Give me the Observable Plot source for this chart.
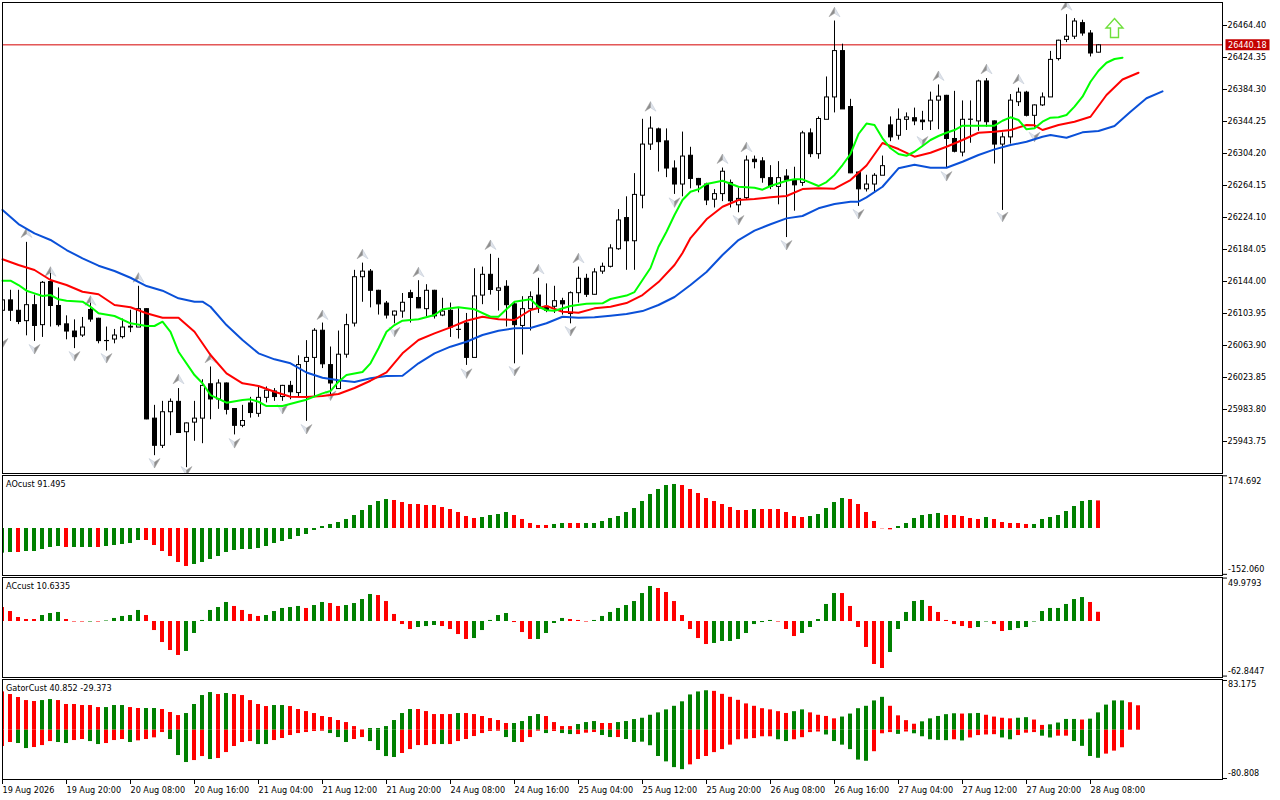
<!DOCTYPE html>
<html><head><meta charset="utf-8">
<script src="https://cdn.jsdelivr.net/npm/d3@7"></script>
<script src="https://cdn.jsdelivr.net/npm/@observablehq/plot@0.6"></script>
<style>
html,body{margin:0;padding:0;background:#fff;width:1280px;height:800px;overflow:hidden}
#chart{position:relative;width:1280px;height:800px}
#chart svg{position:absolute;left:0;display:block}
</style></head><body><div id="chart"></div>
<script>
// ---------- candles ----------
const opens=[26108,26121,26108,26095,26115,26090,26144,26114,26091,26082,
26077,26109,26098,26070.2,26072,26075,26088,26087,26110,25973,
25939,25981,25994,25956,25968,25973,26016,25997,26017,25985,
25964,25992,25979,25999,26007,26000,26014,26005,26044,26049,
26083,26040,26010,26053,26092,26150,26157,26133,26117,26102,
26107,26130,26124,26110,26133,26102,26108,26084.2,26092,26049,
26127,26153,26133,26138,26116,26089,26110,26127,26113,26113,
26120,26104,26130,26148,26128,26157,26163,26185,26224,26195,
26252,26316,26335,26320,26286,26266,26302,26273,26266,26247,
26254,26268,26240,26249,26297,26295,26274,26263,26276,26271,
26268,26330,26304,26347,26375,26433,26363,26281,26260,26266,
26277,26340,26327,26347,26349,26346,26345,26371,26377,26323,
26306,26347,26345,26395,26345,26316,26325,26369,26381,26352,
26365,26375,26423,26447,26451,26468,26455,26431];
const highs=[26125,26133,26133,26193,26127,26144,26158,26136,26101,26096,
26099,26117,26098,26087,26084,26097,26108,26138,26110,25989,
25994,25997,26010,25967,25994,26021,26037,26021,26017,25985,
25989,25999,26012,26012,26010,26014,26019,26051,26070,26085,
26092,26062,26082,26103,26158,26167,26159,26133,26119,26107,
26129,26133,26145,26140,26133,26123,26117,26110,26104,26160,
26162,26178,26173,26145,26119,26125,26131,26148,26141,26138,
26123,26131,26162,26153,26160,26167,26190,26234,26250,26279,
26347,26350,26336,26335,26295,26331,26312,26273,26267,26259,
26286,26271,26261,26301,26301,26299,26289,26294,26284,26287,
26332,26335,26350,26400,26470,26441,26372,26281,26277,26279,
26301,26350,26360,26355,26361,26357,26381,26390,26377,26382,
26370,26370,26396,26398,26345,26330,26378,26386,26382,26365,
26380,26432,26446,26478,26473,26471,26458,26440.18];
const lows=[26104,26094,26090,26076,26069,26074,26087,26087,26071,26060,
26074,26093,26066,26057,26066,26072,26080,26087,25971,25926,
25935,25951,25955,25911,25944,25941,25971,25984,25977,25952,
25961,25973,25974,25992,25994,25994,25996,26000,25969,26000,
26035,26000,26009,26048,26087,26118,26111,26102,26097,26091,
26098,26092,26110,26100,26097,26100,26074,26072,26039,26049,
26115,26127,26107,26087,26041,26052,26082,26104,26105,26104,
26102,26091,26117,26124,26127,26153,26161,26183,26158,26158,
26235,26308,26281,26274,26253,26250,26260,26255,26239,26236,
26244,26236,26230,26246,26285,26267,26259,26240,26199,26232,
26263,26299,26297,26347,26355,26360,26279,26238,26256,26256,
26277,26319,26321,26333,26339,26333,26333,26334,26286,26305,
26300,26317,26332,26337,26291,26233,26316,26363,26350,26336,
26363,26375,26420,26443,26447,26451,26425,26430];
const closes=[26121,26108,26094,26115,26089,26143,26114,26090,26082,26075,
26087,26097,26070,26070,26077,26087,26087,26110,25972,25939,
25981,25994,25955,25967,25973,26014,25997,26017,25984,25964,
25970,25980,25999,26008,26000,26014,26006,26040,26049,26083,
26041,26017,26053,26090,26150,26157,26133,26116,26102,26107,
26118,26124,26111,26133,26101,26107,26087,26084,26049,26126,
26153,26134,26136,26115,26090,26110,26125,26112,26108,26120,
26116,26130,26148,26128,26156,26163,26186,26221,26195,26253,
26316,26336,26319,26286,26266,26301,26273,26265,26246,26254,
26282,26245,26248,26296,26294,26274,26263,26274,26271,26265,
26330,26304,26348,26375,26433,26360,26280,26260,26266,26277,
26289,26325,26347,26350,26345,26344,26371,26376,26323,26307,
26347,26347.2,26395,26344,26316,26325,26371,26381,26352,26365,
26375,26422,26446,26451,26470,26455,26430,26440.18];

// ---------- moving averages (bar index, price) ----------
const jawBars=[0,2,4,6,8,10,12,14,16,18,20,22,24,25,26,28,30,32,34,36,38,40,42,44,46,48,50,52,54,56,58,60,62,64,66,68,70,72,74,76,78,80,82,84,86,88,90,92,94,96,98,100,102,104,106,107,108,110,112,114,116,118,120,122,124,126,128,130,131,133,135,137,139,141,143,145];
const jawVals=[26233.5,26215.9,26204.3,26196,26183.4,26173,26163.8,26157.1,26148.7,26138.3,26132.5,26123,26118.7,26118.7,26112.4,26089.5,26070.8,26054.1,26046.6,26041.6,26030.1,26023.6,26020.3,26018.2,26022.8,26025.7,26026.1,26041.6,26054.1,26062.4,26068.6,26077,26082.4,26085.4,26085.8,26091.7,26099.9,26098.7,26099.2,26101.2,26103.3,26107,26114.6,26124.6,26139.6,26155.9,26177.2,26195.9,26207.6,26215.6,26223,26226,26235.6,26241,26243.9,26243.9,26249.3,26262.6,26285.7,26290.2,26286.4,26286.4,26293.9,26302.3,26309.4,26314.8,26318.9,26325.2,26327.3,26323.9,26330.7,26332.3,26338.6,26356.5,26373.3,26382];
const teethBars=[0,2,4,6,8,10,12,14,16,18,20,22,24,26,28,30,32,34,36,38,40,42,44,46,48,50,52,54,56,58,60,62,64,66,68,70,72,74,76,78,80,82,84,85,86,88,90,92,94,96,98,100,102,104,106,108,110,112,114,116,118,120,122,124,126,128,129,130,132,134,136,138,140,142];
const teethVals=[26171.8,26164.6,26158.4,26145.9,26139.6,26131.2,26128,26114.6,26111.7,26104.2,26098.7,26098.7,26081.1,26052,26029.1,26016.6,26013.2,26006,25999.8,25999.4,26000.7,26003.2,26010.7,26019.8,26030.3,26054.1,26070.8,26079.1,26086.6,26094.9,26099.9,26096.7,26095.8,26108.3,26113.3,26106.2,26104.9,26110.4,26112.4,26117,26127,26143.3,26164.6,26179.6,26198.4,26221.8,26237.6,26246,26247.2,26249.4,26251,26259.7,26260.6,26260.1,26271,26289.2,26317.3,26309.8,26300.2,26305.2,26312.7,26321.1,26330.2,26331.5,26333.6,26339.8,26339.5,26333.6,26339.8,26344,26350.2,26377.4,26396.8,26405.3];
const lipsBars=[0,1,2,3,4,5,6,7,8,10,11,12,14,16,18,19,20,21,22,24,25,26,28,30,31,32,33,35,37,38,40,41,42,43,45,46,47,48,49,50,52,54,55,57,59,61,62,64,66,67,68,69,71,73,75,76,78,79,80,81,82,83,84,85,86,87,88,90,92,94,95,96,98,99,100,102,103,104,105,106,107,108,109,110,111,112,113,114,115,116,117,118,119,120,122,124,125,126,127,128,129,130,131,132,133,134,135,136,137,138,139,140];
const lipsVals=[26145,26145,26139.6,26132.5,26129.2,26125.8,26127.1,26121.7,26120,26118.7,26112.4,26104.2,26100.8,26091.7,26088.3,26088.3,26093.7,26081.1,26056.1,26026.9,26016.6,26001.9,25992.3,25995.7,25996.5,25993.5,25988.1,25988.1,25993.5,25996.1,26004,26006.9,26018.6,26026.9,26030.7,26041.6,26060.4,26081.1,26089.5,26094.9,26096.7,26102,26109.2,26111.7,26109.2,26099.9,26099.9,26118.7,26121.7,26112.4,26108,26107.4,26113.3,26116.2,26116.7,26122.1,26126.4,26130.8,26145.8,26160.9,26187.5,26206.3,26227.2,26246,26256.4,26259.4,26266,26270.1,26262.6,26261.4,26258.9,26263.5,26270.1,26271.9,26271.9,26263.5,26268.5,26277.3,26289.8,26303.6,26328.6,26341.7,26339.9,26323.2,26310.7,26303.6,26301.4,26306.4,26313.6,26321.1,26326.1,26330.2,26333.6,26339,26339,26339,26345.2,26349.5,26346.1,26334.5,26335.7,26344,26349,26349.5,26352.4,26362.8,26375.3,26394,26407.8,26417.8,26422.5,26424.1];

// ---------- fractal arrows ----------
const upBars=[3,6,11,17,22,26,40,45,52,61,67,72,81,90,93,104,117,123,127,133];
const upVals=[26204.7,26156.2,26119.9,26148.7,26021.6,26047.9,26102,26178,26155.5,26189.7,26159.2,26173,26362.8,26297.3,26312,26480.9,26401.2,26409.6,26397,26489.2];
const downBars=[0,4,9,13,19,23,29,35,38,41,49,58,64,71,84,92,98,107,115,118,125,129];
const downVals=[26067,26059.5,26050.7,26048.2,25916.8,25906.8,25941.8,25984.4,25959.4,26001.4,26081.1,26029.1,26032,26082,26243.1,26221,26189.7,26228.5,26319.8,26276,26225.1,26325.2];
const signalBar=[139], signalPrice=[26461.3];
const lastPrice=26440.18;

// ---------- axes ----------
const priceTicks=[26464.40,26424.35,26384.30,26344.25,26304.20,26264.15,26224.10,26184.05,26144.00,26103.95,26063.90,26023.85,25983.80,25943.75];
const timeLabels=["19 Aug 2026","19 Aug 20:00","20 Aug 08:00","20 Aug 16:00","21 Aug 04:00","21 Aug 12:00","21 Aug 20:00","24 Aug 08:00","24 Aug 16:00","25 Aug 04:00","25 Aug 12:00","25 Aug 20:00","26 Aug 08:00","26 Aug 16:00","27 Aug 04:00","27 Aug 12:00","27 Aug 20:00","28 Aug 08:00"];
const timeBars=timeLabels.map((_,k)=>k*8);

// ---------- AO ----------
const aoVals=[-81.8,-79.6,-79.6,-76.3,-76.3,-69.7,-63,-59.7,-63,-63,-63,-63,-63,-59.7,-56.4,-53.1,-49.8,-39.8,-39.8,-56.4,-76.3,-92.9,-112.8,-126,-119.4,-112.8,-102.8,-92.9,-79.6,-73,-69.7,-69.7,-66.3,-59.7,-49.8,-43.1,-36.5,-26.5,-19.9,-6.6,6.6,13.3,19.9,29.9,43.1,59.7,76.3,89.6,96.2,92.9,86.2,79.6,79.6,76.3,76.3,69.7,63,53.1,39.8,33.2,36.5,43.1,46.4,53.1,43.1,29.9,16.6,10,10,13.3,16.6,16.6,16.6,16.6,16.6,23.2,33.2,39.8,53.1,66.3,89.6,112.8,129.4,142.6,146,142.6,129.4,116.1,99.5,89.6,79.6,69.7,59.7,59.7,63,63,63,63,53.1,39.8,36.5,39.8,46.4,66.3,86.2,99.5,96.2,79.6,53.1,23.2,-1,-4.4,6.6,16.6,33.2,43.1,46.4,49.8,43.1,43.1,39.8,33.2,29.9,36.5,29.9,19.9,16.6,16.6,13.3,13.3,29.9,36.5,43.1,56.4,73,89.6,92.9,91.495];
const aoDirs="ggrgggggrg"+"ggrgggggrr"+"rrrrgggggg"+"gggggggggg"+"gggggggggr"+"rrrrrrrrrr"+"ggggrrrrrg"+"grrggggggg"+"gggggrrrrr"+"rrrrgrrrrr"+"rgggggrrrr"+"rrggggggrr"+"rrrgrrrrrg"+"gggggggr";
const aoTicks=[174.692,-152.060];
const aoTickLabels=["174.692","-152.060"];

// ---------- AC ----------
const acVals=[16.1,11.5,4.6,2.3,2.3,6.9,9.2,10.4,2.3,-.6,-.6,-.6,-.6,.6,3.5,5.8,6.9,12.7,6.9,-10.4,-24.2,-33.4,-39.1,-34.5,-13.8,1.2,12.7,16.1,21.9,17.3,12.7,8.1,5.8,6.9,11.5,15,16.1,17.3,15,18.4,21.9,20.7,17.3,18.4,20.7,25.3,31.1,29.9,23,8.1,-3.5,-9.2,-6.9,-5.8,-4.6,-5.8,-9.2,-15,-20.7,-19.6,-10.4,1.2,6.9,9.2,-1.2,-12.7,-20.7,-20.7,-13.8,-2.3,3.5,2.3,1.2,-.6,1.2,5.8,10.4,15,18.4,23,32.2,40.3,38,33.4,23,6.9,-9.2,-19.6,-26.5,-25.3,-23,-23,-20.7,-13.8,-3.5,-1.2,1.2,-.6,-9.2,-17.3,-13.8,-6.9,2.3,19.6,32.2,32.2,17.3,-6.9,-29.9,-49.5,-54.1,-35.7,-9.2,10.4,23,24.2,17.3,10.4,1.2,-3.5,-5.8,-8.1,-6.9,-.6,-3.5,-11.5,-10.4,-8.1,-6.9,-.6,11.5,15,15,19.6,25.3,27.6,21.9,10.6335];
const acDirs="rrrrrgggrr"+"rgrgggggrr"+"rrrggggggr"+"rrrgggggrg"+"grrggggrrr"+"rrgggrrrrg"+"ggggrrrggg"+"grrrgggggg"+"ggrrrrrrrg"+"gggggggrrr"+"gggggrrrrr"+"rgggggrrrr"+"rrggrrgggg"+"ggggggrr";
const acTicks=[49.9793,-62.8447];
const acTickLabels=["49.9793","-62.8447"];

// ---------- Gator ----------
const gatorUp=[64.1,59.7,54.7,49.6,48,49.6,51.3,49.6,43,43,41.3,41.3,37.9,37.9,41.3,41.3,37.9,36.3,36.3,36.3,34.6,29.6,24.5,27.9,43,58,63,59.7,61.4,59.7,58,49.6,43,39.6,41.3,41.3,39.6,34.6,31.2,27.9,22.9,21.2,16.2,12.8,6.1,0.6,2.8,2.8,6.1,16.2,27.9,34.6,34.6,31.2,26.2,26.2,26.2,27.9,27.9,26.2,22.9,19.5,16.2,11.2,11.2,14.5,22.9,26.2,22.9,12.8,6.1,6.1,9.5,12.8,14.5,11.2,11.2,12.8,14.5,17.8,
20,25,29,34,40,47.5,59,64,66,65,60,55,50,44,40,36,34,31,28,31,34,29,25,23,19,22,27,36,40,49,55,40,24,16,10,14,19,23,26,27.5,27,27.5,28,25,22,20,19,20,21,17,8,9,12,18,18,17,18.5,29,42,49,49,46,40.852];
const gatorLow=[-27.3,-20.6,-22.3,-30.7,-29,-25.7,-19,-20.6,-22.3,-17.3,-15.6,-19,-24,-22.3,-17.3,-15.6,-20.6,-17.8,-15.6,-12.8,-3.9,-15.6,-42.4,-54.1,-50.8,-44.1,-49.1,-47.4,-37.4,-27.3,-20.6,-19,-24,-24,-17.3,-13.9,-8.9,-5.6,-3.9,-2.2,-1.7,-5.6,-12.3,-20.6,-15.6,-12.3,-19,-34,-44.1,-45.7,-39,-32.4,-25.7,-25.7,-24,-24,-24,-19,-15.6,-10.6,-5.6,-2.2,-1.7,-12.3,-20.6,-20.6,-12.3,-1.7,-5.6,-2.2,-5.6,-7.3,-7.3,-5,-3.9,-8.9,-12.3,-12.3,-15.6,-20.6,
-20,-26,-44,-53,-62.6,-66,-58,-49,-44,-37.5,-32.5,-25,-16,-15,-14,-11,-11,-16,-19,-16,-12.5,-4,-3,-8,-19,-25,-32.5,-50,-52,-36,-6,-4,-7,-3,-6,-11,-16,-17,-17.5,-16,-18,-13,-9,-8,-7.5,-13,-16,-9,-5,-4,-10,-13,-10,-10,-19,-27,-44,-47,-40,-35,-29.373];
const gatorUpDirs="rrrrrggrrr"+"rrrgggrrgg"+"rrrggggrgr"+"rrrrggrrrr"+"rrrrrrgggg"+"ggrrrrrgrr"+"rrrrggggrr"+"rrgggrrggg"+"gggggggggr"+"rrrrrrrrrg"+"grrrrggggg"+"grrrrggggg"+"rggrrrrggr"+"rggggrgggg"+"grr";
const gatorLowDirs="rrggrrrggr"+"rggrrrgrrr"+"rgggrrgrrr"+"rrggrrrrrr"+"rgggrrgggg"+"rrrrrgrrrr"+"rrrggrrrgr"+"ggrrrggrgg"+"ggggggrrrr"+"rrrrrrrggr"+"rrrggggggr"+"rrgrgggggr"+"grrrrggrrr"+"ggrrggggrr"+"r";
const gatorTicks=[83.175,-80.808];
const gatorTickLabels=["83.175","-80.808"];

// ---------- styling ----------
const GREEN="#008000", RED="#ff0000", FONT="'DejaVu Sans Condensed','DejaVu Sans'";
const colorOf=c=>c==="g"?GREEN:RED;
const xDomain=[0,152.5];
const base={width:1280,marginLeft:2,marginRight:58,
  style:{fontFamily:FONT,fontSize:"9px",background:"transparent",color:"#000",overflow:"visible"},
  color:{type:"identity"}};
const poly=pts=>({draw(c){pts.forEach((p,k)=>k?c.lineTo(p[0],p[1]):c.moveTo(p[0],p[1]));c.closePath();}});
const upDark=poly([[0,-5],[0,1],[-5.5,4.5]]), upLight=poly([[0,-5],[5.5,4.5],[0,1]]);
const downLight=poly([[0,5],[0,-1],[-5.5,-4.5]]), downDark=poly([[0,5],[5.5,-4.5],[0,-1]]);
const bigArrow=poly([[0,-9.5],[8.5,0],[4,0],[4,9.5],[-4,9.5],[-4,0],[-8.5,0]]);
const priceBox={draw(c){c.rect(3,-5.5,44,11);}};

const host=document.getElementById("chart");
function place(svg,top){svg.style.top=top+"px";host.appendChild(svg);}

// ---------- main pane ----------
const candles=opens.map((o,i)=>({i,o,h:highs[i],l:lows[i],c:closes[i]}));
const zip=(xs,ys)=>xs.map((x,k)=>({x,y:ys[k]}));
const W=0.25;
const main=Plot.plot({...base,height:474,marginTop:2,marginBottom:1,
  x:{domain:xDomain,axis:null},
  y:{domain:[25903.7,26493.19],label:null},
  marks:[
    Plot.ruleY([lastPrice],{stroke:"#d40000",strokeWidth:1}),
    Plot.ruleX(candles,{x:"i",y1:"l",y2:"h",stroke:"#000",strokeWidth:1}),
    Plot.rect(candles,{x1:d=>d.i-W,x2:d=>d.i+W,y1:"o",y2:"c",
      fill:d=>d.c>=d.o?"#fff":"#000",stroke:"#000",strokeWidth:1,dx:.5,dy:.5,clip:"frame"}),
    Plot.dot(zip(upBars,upVals),{x:"x",y:"y",symbol:upLight,r:5,fill:"#dfe3ea",stroke:"#c3cbd6",strokeWidth:.6,clip:"frame"}),
    Plot.dot(zip(upBars,upVals),{x:"x",y:"y",symbol:upDark,r:5,fill:"#8e8e8e",stroke:"#a0a0a0",strokeWidth:.5,clip:"frame"}),
    Plot.dot(zip(downBars,downVals),{x:"x",y:"y",symbol:downLight,r:5,fill:"#dfe3ea",stroke:"#c3cbd6",strokeWidth:.6,clip:"frame"}),
    Plot.dot(zip(downBars,downVals),{x:"x",y:"y",symbol:downDark,r:5,fill:"#8e8e8e",stroke:"#a0a0a0",strokeWidth:.5,clip:"frame"}),
    Plot.line(zip(jawBars,jawVals),{x:"x",y:"y",stroke:"#0a50d8",strokeWidth:2}),
    Plot.line(zip(teethBars,teethVals),{x:"x",y:"y",stroke:"#ff0000",strokeWidth:2}),
    Plot.line(zip(lipsBars,lipsVals),{x:"x",y:"y",stroke:"#00ff00",strokeWidth:2}),
    Plot.dot(zip(signalBar,signalPrice),{x:"x",y:"y",symbol:bigArrow,r:8,fill:"#fff",stroke:"#6fe03c",strokeWidth:1.4}),
    Plot.frame({stroke:"#000"}),
    Plot.axisY(priceTicks,{anchor:"right",tickSize:4,tickPadding:1,tickFormat:d=>d.toFixed(2),fill:"#000",label:null}),
    Plot.dot([lastPrice],{y:d=>d,frameAnchor:"right",symbol:priceBox,r:5,fill:"#c40000",stroke:"none"}),
    Plot.text([lastPrice],{y:d=>d,frameAnchor:"right",dx:5.5,textAnchor:"start",text:d=>d.toFixed(2),fill:"#fff"})
  ]});
place(main,0);

// ---------- indicator panes ----------
function bars(vals,dirs){return vals.map((v,i)=>({i,v,col:colorOf(dirs[i])}));}
function barMark(rows){return Plot.rect(rows,{x1:d=>d.i-W,x2:d=>d.i+W,y1:0,y2:"v",fill:"col",clip:"frame"});}
function pane({top,height,marginBottom,domain,series,title,ticks,tickLabels,dyTop,dyBottom,extra=[]}){
  const svg=Plot.plot({...base,height,marginTop:1,marginBottom,
    x:{domain:xDomain,...(extra.length?{}:{axis:null})},
    y:{domain,label:null},
    marks:[
      ...series.map(barMark),
      Plot.frame({stroke:"#000"}),
      Plot.axisY(ticks,{anchor:"right",tickSize:4,tickFormat:()=>"",label:null}),
      Plot.text([0],{y:()=>ticks[0],frameAnchor:"right",dx:5.5,dy:dyTop,textAnchor:"start",text:()=>tickLabels[0],fill:"#000"}),
      Plot.text([1],{y:()=>ticks[1],frameAnchor:"right",dx:5.5,dy:dyBottom,textAnchor:"start",text:()=>tickLabels[1],fill:"#000"}),
      Plot.text([title],{frameAnchor:"top-left",dx:3.5,dy:5,lineAnchor:"top",text:d=>d,fill:"#000"}),
      ...extra
    ]});
  place(svg,top);
}
pane({top:474,height:102,marginBottom:1,domain:[-155.9,175.8],
  series:[bars(aoVals,aoDirs)],title:"AOcust 91.495",
  ticks:aoTicks,tickLabels:aoTickLabels,dyTop:5,dyBottom:-5});
pane({top:576,height:102,marginBottom:1,domain:[-64.47,50.66],
  series:[bars(acVals,acDirs)],title:"ACcust 10.6335",
  ticks:acTicks,tickLabels:acTickLabels,dyTop:5,dyBottom:-5});
pane({top:678,height:122,marginBottom:21,domain:[-82.5,84.84],
  series:[bars(gatorUp,gatorUpDirs),bars(gatorLow,gatorLowDirs)],title:"GatorCust 40.852 -29.373",
  ticks:gatorTicks,tickLabels:gatorTickLabels,dyTop:4,dyBottom:-5,
  extra:[Plot.axisX(timeBars,{anchor:"bottom",tickSize:5,tickPadding:2,textAnchor:"start",lineAnchor:"top",
    tickFormat:d=>timeLabels[d/8],fill:"#000",label:null})]});
</script></body></html>
